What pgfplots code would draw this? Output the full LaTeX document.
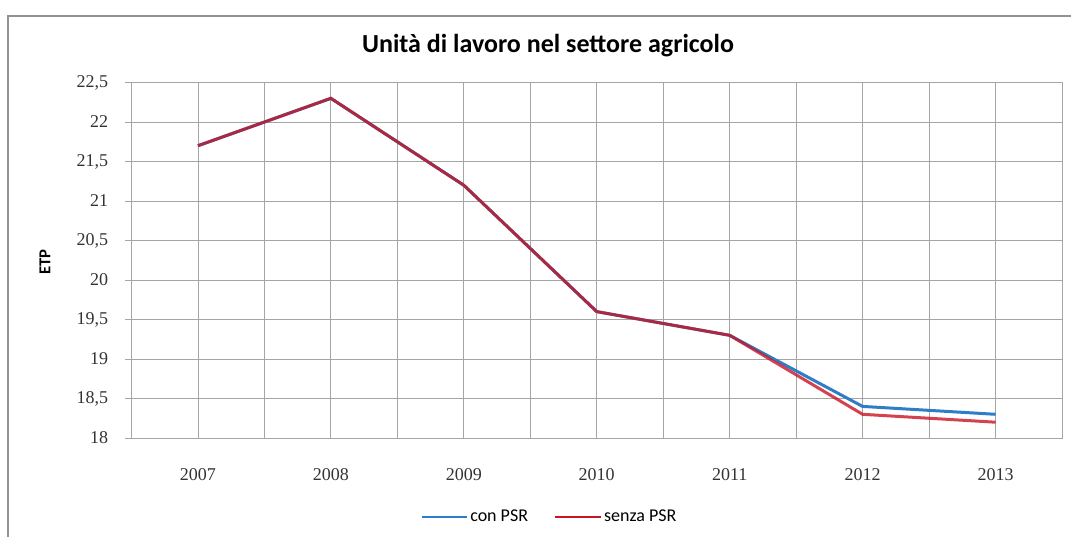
\documentclass[border=0pt]{standalone}
\usepackage{pgfplots}
\pgfplotsset{compat=1.18}
\usepackage{fontspec}
\setmainfont{Liberation Serif}
\newfontfamily\carlito{Carlito}
\definecolor{conblue}{RGB}{45,125,200}
\definecolor{senzared}{RGB}{200,20,35}
\definecolor{gridgray}{RGB}{165,165,165}
\begin{document}
\begin{tikzpicture}
\path[use as bounding box] (0,0) rectangle (803.25pt,402.75pt);
\draw[color=gray!85, line width=1.5pt] (6pt,0) -- (6pt,390.75pt) -- (803.25pt,390.75pt);
\begin{axis}[
  at={(98.6pt,74.25pt)}, anchor=south west,
  scale only axis, width=697.9pt, height=266.6pt,
  xmin=0.5, xmax=7.5, ymin=18, ymax=22.5,
  xtick={1,2,3,4,5,6,7},
  xticklabels={2007,2008,2009,2010,2011,2012,2013},
  minor xtick={1.5,2.5,3.5,4.5,5.5,6.5},
  ytick={18,18.5,19,19.5,20,20.5,21,21.5,22,22.5},
  xmajorgrids, xminorgrids, ymajorgrids,
  major grid style={gridgray, line width=0.6pt},
  minor grid style={gridgray, line width=0.6pt},
  axis line style={gridgray, line width=0.7pt},
  ytick pos=left, xtick pos=bottom,
  tick align=outside,
  major tick length=4.5pt, minor tick length=0pt,
  xtick style={draw=none},
  ytick style={gridgray, line width=0.6pt},
  /pgf/number format/assume math mode=true,
  /pgf/number format/use comma,
  /pgf/number format/fixed,
  /pgf/number format/precision=1,
  tick label style={font=\fontsize{13.5}{14}\selectfont, text=black!80},
  yticklabel style={xshift=-9.5pt},
  xticklabel style={yshift=-15pt},
  legend columns=2,
  legend style={draw=none, fill=none, at={(0.4498,-0.222)}, anchor=center,
    font=\carlito\fontsize{13.5}{14}\selectfont,
    /tikz/every even column/.append style={column sep=18pt}},
  legend image code/.code={\draw[#1, line width=1pt, opacity=1] (0pt,0pt) -- (34pt,0pt);},
]
\addplot[conblue, line width=2.25pt] coordinates {
 (1,21.7) (2,22.3) (3,21.2) (4,19.6) (5,19.3) (6,18.4) (7,18.3)};
\addlegendentry{con PSR}
\addplot[senzared, line width=2.25pt, opacity=0.8] coordinates {
 (1,21.7) (2,22.3) (3,21.2) (4,19.6) (5,19.3) (6,18.3) (7,18.2)};
\addlegendentry{senza PSR}
\end{axis}
\node[font=\carlito\bfseries\fontsize{19.5}{21}\selectfont] at (411pt,368.25pt) {Unità di lavoro nel settore agricolo};
\node[rotate=90, font=\carlito\bfseries\fontsize{12.5}{14}\selectfont] at (33.75pt,206.25pt) {ETP};
\end{tikzpicture}
\end{document}
